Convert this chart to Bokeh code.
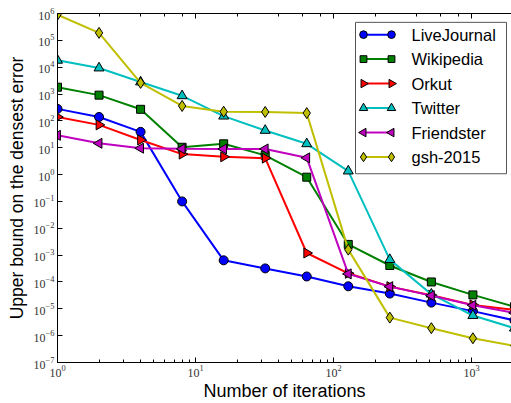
from bokeh.plotting import figure
from bokeh.models import LogAxis, FixedTicker, ColumnDataSource, Range1d, LinearScale
from bokeh.core.properties import value
from bokeh.embed import file_html
from bokeh.resources import INLINE

iterations = [1, 2, 4, 8, 16, 32, 64, 128, 256, 512, 1024, 2048]

livejournal = [280, 140, 39, 0.1, 6.4e-4, 3.2e-4, 1.6e-4, 6.9e-5, 3.7e-5, 1.7e-5, 8.2e-6, 3.7e-6]
wikipedia = [1.8e3, 910, 270, 10.4, 14, 5.2, 0.8, 2.5e-3, 4.1e-4, 1.0e-4, 3.3e-5, 1.2e-5]
orkut = [140, 71, 19.5, 5.8, 4.6, 4.1, 1.2e-3, 2.1e-4, 6.7e-5, 3.2e-5, 1.4e-5, 9e-6]
twitter = [1.8e4, 9.3e3, 2.8e3, 860, 150, 44, 14, 1.35, 6.8e-4, 3.5e-5, 5.6e-6, 1.9e-6]
friendster = [29, 14.6, 9.6, 9.1, 9, 9, 4.2, 2.0e-4, 6.7e-5, 3.1e-5, 1.35e-5, 7e-6]
gsh2015 = [9e5, 1.9e5, 2.6e3, 360, 220, 215, 195, 1.6e-3, 4.7e-6, 1.9e-6, 8e-7, 4.2e-7]

names = ["LiveJournal", "Wikipedia", "Orkut", "Twitter", "Friendster", "gsh-2015"]
series = [livejournal, wikipedia, orkut, twitter, friendster, gsh2015]
colors = ["#0000ff", "#008000", "#ff0000", "#00bfbf", "#bf00bf", "#bfbf00"]
markers = ["circle", "square", "triangle", "triangle", "triangle", "diamond"]
angles = [0, 0, -1.5708, 0, 1.5708, 0]
sizes = [9, 8, 10, 10, 10, 11]

y_ticks = [1e-7, 1e-6, 1e-5, 1e-4, 1e-3, 1e-2, 1e-1, 1e0, 1e1, 1e2, 1e3, 1e4, 1e5, 1e6]

FRAME_W, FRAME_H = 454, 355

p = figure(width=511, height=403, x_axis_type="log", y_axis_type="log",
           x_range=(1, 1950), y_range=(1e-7, 1e6),
           output_backend="svg", toolbar_location=None,
           min_border_left=57, min_border_right=0, min_border_top=13, min_border_bottom=35)
p.outline_line_color = None
p.xgrid.visible = False
p.ygrid.visible = False
p.background_fill_color = "white"
p.border_fill_color = "white"
# pixel-space ranges used only to lay out the legend box
p.extra_x_ranges = {"lg": Range1d(0, FRAME_W)}
p.extra_y_ranges = {"lg": Range1d(0, FRAME_H)}
p.extra_x_scales = {"lg": LinearScale()}
p.extra_y_scales = {"lg": LinearScale()}

tick_font = "Liberation Serif"
for ax in (p.xaxis[0], p.yaxis[0]):
    ax.major_tick_in = 5
    ax.major_tick_out = 0
    ax.minor_tick_in = 3
    ax.minor_tick_out = 0
    ax.axis_line_color = "black"
    ax.major_tick_line_color = "black"
    ax.minor_tick_line_color = "black"
    ax.major_label_text_font = tick_font
    ax.major_label_text_font_size = "12px"
    ax.major_label_text_color = "#333333"
    ax.axis_label_text_font = "Liberation Sans"
    ax.axis_label_text_font_size = "18px"
    ax.axis_label_text_font_style = "normal"
    ax.axis_label_text_color = "black"

p.yaxis[0].ticker = FixedTicker(ticks=y_ticks)
p.yaxis[0].minor_tick_in = 0
p.yaxis[0].major_label_standoff = 3
p.yaxis[0].axis_label_standoff = 4
p.yaxis[0].axis_label_text_font_size = "17.5px"
p.xaxis[0].major_label_standoff = 2
p.xaxis[0].axis_label_standoff = 1
p.xaxis[0].axis_label = "Number of iterations"
p.yaxis[0].axis_label = "Upper bound on the densest error"

top = LogAxis(major_tick_in=5, major_tick_out=0, minor_tick_in=3, minor_tick_out=0,
              major_label_text_font_size="1px", major_label_text_alpha=0,
              major_label_standoff=0, axis_line_color="black")
p.add_layout(top, "above")

for name, ys, c, m, a, s in zip(names, series, colors, markers, angles, sizes):
    src = ColumnDataSource(dict(x=iterations, y=ys))
    p.line("x", "y", source=src, line_color=c, line_width=2)
    p.scatter("x", "y", source=src, marker=m, size=s, angle=a, fill_color=c,
              line_color="black", line_width=1)

# legend (matplotlib style: line with a marker at both ends)
LG_LEFT, LG_RIGHT, LG_BOTTOM, LG_TOP = 298, 449, 192, 346
ROW0, PITCH = 333.5, 24.9
LINE_X0, LINE_X1, TEXT_X = 306, 334, 354
p.quad(left=[LG_LEFT], right=[LG_RIGHT], bottom=[LG_BOTTOM], top=[LG_TOP],
       x_range_name="lg", y_range_name="lg",
       fill_color="white", line_color="#555555", line_width=1)
for i, (name, c, m, a, s) in enumerate(zip(names, colors, markers, angles, sizes)):
    yy = ROW0 - i * PITCH
    p.line([LINE_X0, LINE_X1], [yy, yy], x_range_name="lg", y_range_name="lg",
           line_color=c, line_width=2)
    p.scatter([LINE_X0, LINE_X1], [yy, yy], x_range_name="lg", y_range_name="lg",
              marker=m, size=s * 0.85, angle=a, fill_color=c,
              line_color="black", line_width=1)
    p.text([TEXT_X], [yy], text=[name], x_range_name="lg", y_range_name="lg",
           text_font=value("Liberation Sans"), text_font_size="16.5px",
           text_baseline="middle", text_align="left", text_color="black")

open("out.html", "w").write(file_html(p, INLINE))
